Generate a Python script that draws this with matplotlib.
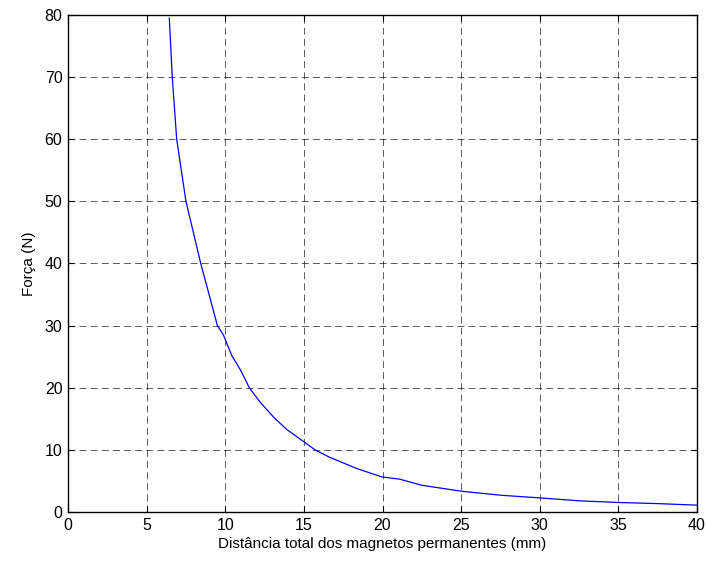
import matplotlib
matplotlib.use("Agg")
import matplotlib.pyplot as plt

# values
distancia = [6.44, 6.63, 6.91, 7.50, 8.44, 9.50, 9.88, 10.41, 10.98, 11.53,
             12.21, 13.06, 13.9, 14.86, 15.71, 16.66, 18.36, 19.95, 21.1, 22.5,
             25.0, 27.5, 30.0, 32.5, 35.0, 37.5, 40.0]
forca = [79.5, 70.0, 60.0, 50.0, 40.0, 30.0, 28.5, 25.2, 22.8, 20.0,
         17.7, 15.3, 13.3, 11.56, 10.0, 8.78, 7.0, 5.65, 5.28, 4.3,
         3.35, 2.7, 2.27, 1.8, 1.53, 1.35, 1.1]

xticks = [0, 5, 10, 15, 20, 25, 30, 35, 40]
yticks = [0, 10, 20, 30, 40, 50, 60, 70, 80]

plt.rcParams['font.family'] = ['Liberation Sans', 'DejaVu Sans']
plt.rcParams['lines.scale_dashes'] = False

fig = plt.figure(figsize=(7.07, 5.63), dpi=100)
ax = fig.add_axes([0.0962, 0.0906, 0.8897, 0.8828])

ax.plot(distancia, forca, color='#0000ff', lw=0.9)

ax.set_xlim(0, 40)
ax.set_ylim(0, 80)
ax.set_xticks(xticks)
ax.set_yticks(yticks)
ax.grid(True, color='black', linestyle=(0, (5, 3)), lw=0.6, alpha=0.75)
ax.tick_params(direction='in', top=True, right=True, length=4, width=0.8,
               labelsize=11.5, pad=4)
for s in ax.spines.values():
    s.set_linewidth(1.0)

ax.set_xlabel('Distância total dos magnetos permanentes (mm)', fontsize=11, labelpad=3)
ax.set_ylabel('Força (N)', fontsize=11, labelpad=6)

fig.savefig('out.png', dpi=100)
